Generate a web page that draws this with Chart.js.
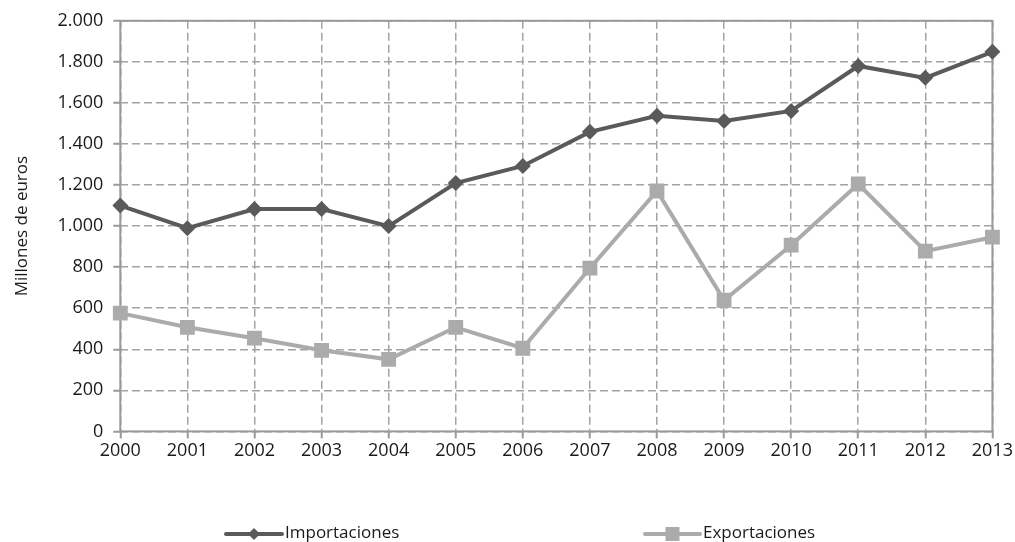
<!DOCTYPE html>
<html>
<head>
<meta charset="utf-8">
<script src="https://cdn.jsdelivr.net/npm/chart.js@4"></script>
<style>
  html, body { margin: 0; padding: 0; background: #fff; }
  #wrap { width: 1015px; height: 542px; }
</style>
</head>
<body>
<div id="wrap"><canvas id="chart" width="1015" height="542"></canvas></div>
<script>
const anios = ["2000", "2001", "2002", "2003", "2004", "2005", "2006", "2007", "2008", "2009", "2010", "2011", "2012", "2013"];
const importaciones = [1100, 990, 1083, 1083, 1000, 1210, 1293, 1459, 1537, 1512, 1561, 1780, 1722, 1849];
const exportaciones = [576, 507, 454, 395, 351, 507, 405, 795, 1171, 639, 907, 1205, 878, 946];
const ejeY = { min: 0, max: 2000, paso: 200 };

const colorImp = "#5a5a5a";
const colorExp = "#ababab";
const fuente = "'Open Sans', sans-serif";

// miles con punto: 1.800
function formatoMiles(v) {
  return String(v).replace(/\B(?=(\d{3})+(?!\d))/g, ".");
}

// marco sólido + leyenda estilo Excel
const marcoLeyenda = {
  id: "marcoLeyenda",
  beforeDatasetsDraw(chart) {
    const { ctx, chartArea: a } = chart;
    ctx.save();
    ctx.strokeStyle = "#999999";
    ctx.lineWidth = 2;
    ctx.setLineDash([]);
    ctx.strokeRect(a.left, a.top, a.right - a.left, a.bottom - a.top);
    ctx.restore();
  },
  afterDraw(chart) {
    const { ctx } = chart;
    const y = 534;
    const items = [
      { x1: 226, x2: 282, ds: chart.data.datasets[0] },
      { x1: 645, x2: 700, ds: chart.data.datasets[1] }
    ];
    ctx.save();
    items.forEach(it => {
      const c = it.ds.borderColor;
      ctx.strokeStyle = c;
      ctx.lineWidth = 4;
      ctx.lineCap = "round";
      ctx.beginPath();
      ctx.moveTo(it.x1, y);
      ctx.lineTo(it.x2, y);
      ctx.stroke();
      const mx = (it.x1 + it.x2) / 2;
      ctx.fillStyle = c;
      ctx.beginPath();
      if (it.ds.pointStyle === "rectRot") {
        ctx.moveTo(mx, y - 6); ctx.lineTo(mx + 6, y); ctx.lineTo(mx, y + 6); ctx.lineTo(mx - 6, y);
      } else {
        ctx.rect(mx - 7, y - 7, 14, 14);
      }
      ctx.closePath();
      ctx.fill();
      ctx.fillStyle = "#1a1a1a";
      ctx.font = "17px " + fuente;
      ctx.textBaseline = "middle";
      ctx.fillText(it.ds.label, it.x2 + 3, y - 1);
    });
    ctx.restore();
  }
};

const rejilla = {
  color: "#a3a3a3",
  lineWidth: 1.5,
  tickLength: 7,
  tickColor: "#999999",
  tickWidth: 2,
  tickBorderDash: []
};

new Chart(document.getElementById("chart"), {
  type: "line",
  data: {
    labels: anios,
    datasets: [
      {
        label: "Importaciones",
        data: importaciones,
        borderColor: colorImp,
        backgroundColor: colorImp,
        borderWidth: 4,
        pointStyle: "rectRot",
        pointRadius: 8,
        pointBorderWidth: 0,
        tension: 0,
        fill: false
      },
      {
        label: "Exportaciones",
        data: exportaciones,
        borderColor: colorExp,
        backgroundColor: colorExp,
        borderWidth: 4,
        pointStyle: "rect",
        pointRadius: 10.5,
        pointBorderWidth: 0,
        tension: 0,
        fill: false
      }
    ]
  },
  options: {
    responsive: false,
    animation: false,
    layout: { padding: { left: 12, top: 7, right: 0, bottom: 78 } },
    plugins: {
      legend: { display: false },
      tooltip: { enabled: false }
    },
    scales: {
      x: {
        offset: false,
        grid: Object.assign({ offset: false }, rejilla),
        border: { display: false, dash: [8, 4] },
        ticks: { color: "#1a1a1a", font: { family: fuente, size: 18 }, padding: 2, maxRotation: 0 }
      },
      y: {
        min: ejeY.min,
        max: ejeY.max,
        grid: rejilla,
        border: { display: false, dash: [8, 4] },
        ticks: {
          stepSize: ejeY.paso,
          color: "#1a1a1a",
          font: { family: fuente, size: 18 },
          padding: 10,
          callback: v => formatoMiles(v)
        },
        title: {
          display: true,
          text: "Millones de euros",
          color: "#1a1a1a",
          font: { family: fuente, size: 17 },
          padding: { top: 0, bottom: 15 }
        }
      }
    }
  },
  plugins: [marcoLeyenda]
});
</script>
</body>
</html>
